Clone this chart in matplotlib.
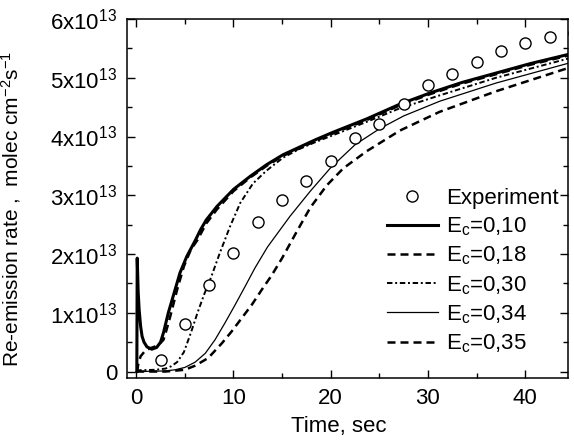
import matplotlib
matplotlib.use("Agg")
import matplotlib.pyplot as plt

plt.rcParams["font.family"] = ["Liberation Sans", "DejaVu Sans"]
plt.rcParams["mathtext.fontset"] = "custom"
plt.rcParams["mathtext.rm"] = "Liberation Sans"
plt.rcParams["mathtext.it"] = "Liberation Sans:italic"

# values in units of 1e13 molec cm^-2 s^-1
exp_t = [2.5, 5, 7.5, 10, 12.5, 15, 17.5, 20, 22.5, 25, 27.5, 30, 32.5, 35,
         37.5, 40, 42.5, 45]
exp_y = [0.19, 0.81, 1.47, 2.02, 2.54, 2.92, 3.25, 3.58, 3.97, 4.22, 4.55,
         4.88, 5.07, 5.27, 5.46, 5.59, 5.69, 5.77]

t_010 = [0.06, 0.1, 0.2, 0.3, 0.45, 0.6, 0.8, 1.1, 1.6, 2.1, 2.5, 2.8, 3.3,
         3.9, 4.5, 5.2, 6.1, 6.6, 7.2, 8.3, 10, 11.7, 13.4, 15.1, 16.8, 18.5,
         20.2, 23.7, 27.1, 30.2, 33.5, 37, 40.5, 44.5]
y_010 = [0.0, 1.93, 1.35, 1.05, 0.77, 0.6, 0.5, 0.42, 0.38, 0.41, 0.5, 0.66,
         1.0, 1.34, 1.68, 1.96, 2.24, 2.41, 2.58, 2.81, 3.1, 3.32, 3.52, 3.69,
         3.82, 3.95, 4.07, 4.3, 4.55, 4.74, 4.92, 5.08, 5.24, 5.40]

t_018 = [0.1, 0.2, 0.45, 0.8, 1.1, 1.5, 2.0, 2.4, 2.8, 3.1, 3.5, 4.2, 4.9,
         5.6, 6.3, 7.2, 8.3, 10, 11.7, 13.4, 15.1, 16.8, 18.5, 20.2, 23.7,
         27.1, 30.2, 33.5, 37, 40.5, 44.5]
y_018 = [0.0, 0.12, 0.26, 0.33, 0.37, 0.40, 0.43, 0.47, 0.54, 0.7, 0.94, 1.39,
         1.79, 2.07, 2.24, 2.52, 2.76, 3.07, 3.3, 3.5, 3.67, 3.8, 3.93, 4.05,
         4.28, 4.53, 4.72, 4.9, 5.06, 5.22, 5.38]

t_030 = [0, 2, 3, 3.6, 4.2, 4.9, 5.6, 6.3, 7, 7.6, 8.6, 9.65, 10.7, 12, 13.4,
         15.1, 16.8, 18.5, 20.2, 23.7, 27.1, 31.2, 37, 44.5]
y_030 = [0.02, 0.03, 0.05, 0.09, 0.16, 0.33, 0.65, 1.0, 1.32, 1.56, 2.02,
         2.47, 2.87, 3.2, 3.42, 3.64, 3.79, 3.91, 4.02, 4.25, 4.48, 4.7, 5.0,
         5.33]

t_034 = [0, 3, 4, 5, 6.06, 7.1, 8.1, 9.1, 10.15, 11.2, 12.2, 13.5, 15.8, 17.9,
         20, 22.5, 25, 27.5, 31.2, 37, 44.5]
y_034 = [0.0, 0.01, 0.03, 0.07, 0.16, 0.31, 0.54, 0.82, 1.13, 1.45, 1.76,
         2.12, 2.64, 3.07, 3.47, 3.86, 4.13, 4.35, 4.6, 4.91, 5.25]

t_035 = [0, 3, 5, 6.06, 7.4, 8.8, 9.8, 10.85, 11.9, 12.9, 13.9, 15, 16.5, 17.9,
         19.6, 21.3, 23.7, 27.1, 31.2, 37, 44.5]
y_035 = [0.0, 0.0, 0.03, 0.1, 0.23, 0.48, 0.68, 0.91, 1.14, 1.39, 1.63, 1.93,
         2.38, 2.79, 3.17, 3.46, 3.75, 4.1, 4.42, 4.77, 5.17]

y_ticks = [0, 1, 2, 3, 4, 5, 6]
y_labels = ["0"] + [f"{v}x10$^{{13}}$" for v in y_ticks[1:]]

fig = plt.figure(figsize=(5.74, 4.42), dpi=100)
ax = fig.add_axes([127 / 574, 64 / 442, 441 / 574, 359 / 442])

ax.plot(exp_t, exp_y, "o", ms=8, mfc="white", mec="black", mew=1.0,
        label="Experiment", zorder=5)
ax.plot(t_010, y_010, "-", color="black", lw=2.2, label="E$_\\mathrm{c}$=0,10")
ax.plot(t_018, y_018, color="black", lw=1.8, ls=(0, (3.2, 2.0)),
        label="E$_\\mathrm{c}$=0,18")
ax.plot(t_030, y_030, color="black", lw=1.4, ls=(0, (2.8, 1.4, 1.0, 1.4)),
        label="E$_\\mathrm{c}$=0,30")
ax.plot(t_034, y_034, "-", color="black", lw=0.9, label="E$_\\mathrm{c}$=0,34")
ax.plot(t_035, y_035, color="black", lw=1.8, ls=(0, (3.2, 2.0)),
        label="E$_\\mathrm{c}$=0,35")

ax.set_xlim(-0.95, 44.4)
ax.set_ylim(-0.11, 6.0)
ax.set_xticks([0, 10, 20, 30, 40])
ax.set_xticks([5, 15, 25, 35], minor=True)
ax.set_yticks(y_ticks)
ax.set_yticklabels(y_labels)
ax.set_yticks([0.5, 1.5, 2.5, 3.5, 4.5, 5.5], minor=True)

ax.tick_params(which="both", direction="in", top=True, right=True,
               width=1.0, labelsize=16)
ax.tick_params(which="major", length=5.5, pad=7)
ax.tick_params(which="minor", length=3.5)
for s in ax.spines.values():
    s.set_linewidth(1.1)

ax.set_xlabel("Time, sec", fontsize=16)
ax.xaxis.set_label_coords(0.48, -0.105)
ax.set_ylabel("Re-emission rate ,  molec cm$^{-2}$s$^{-1}$", fontsize=15)
ax.yaxis.set_label_coords(-0.235, 0.47)

ax.legend(loc="upper left", bbox_to_anchor=(0.589, 0.53), frameon=False,
          fontsize=16, handlelength=2.3, handletextpad=0.35,
          labelspacing=0.3, borderpad=0, borderaxespad=0)

fig.savefig("out.png", dpi=100)
